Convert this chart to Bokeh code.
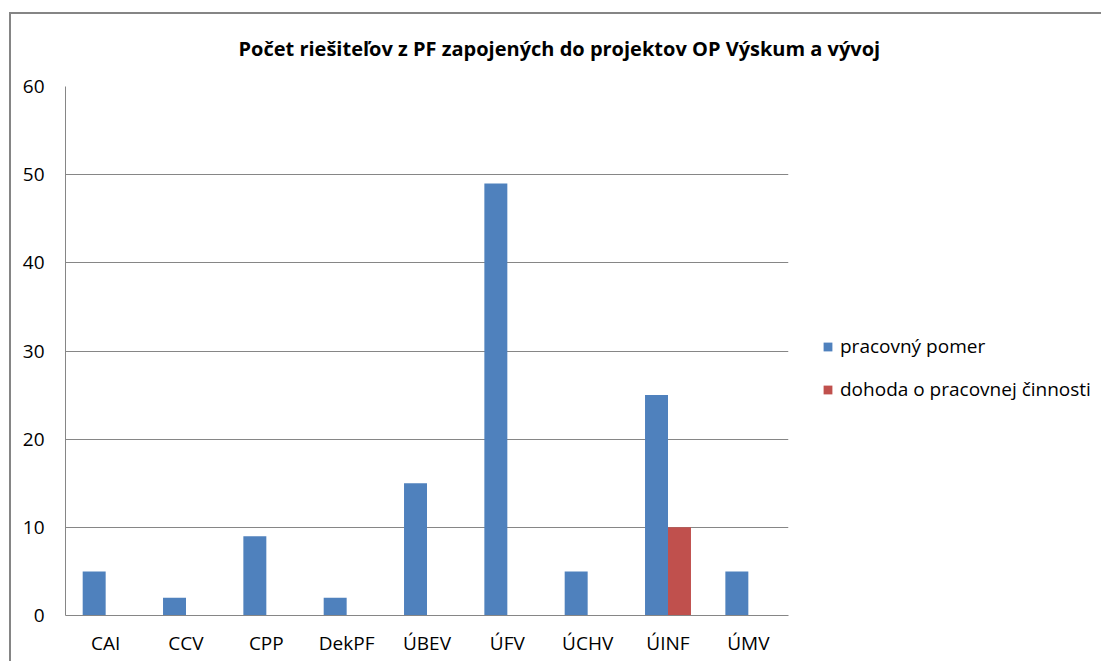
from bokeh.plotting import figure
from bokeh.models import FactorRange, ColumnDataSource, Legend, LegendItem, Range1d, FixedTicker
from bokeh.transform import dodge
from bokeh.embed import file_html
from bokeh.resources import INLINE

categories = ["CAI", "CCV", "CPP", "DekPF", "ÚBEV", "ÚFV", "ÚCHV", "ÚINF", "ÚMV"]
pracovny_pomer = [5, 2, 9, 2, 15, 49, 5, 25, 5]
dohoda = [0, 0, 0, 0, 0, 0, 0, 10, 0]
series_names = ["pracovný pomer", "dohoda o pracovnej činnosti"]
title_text = "Počet riešiteľov z PF zapojených do projektov OP Výskum a vývoj"
y_ticks = [0, 10, 20, 30, 40, 50, 60]

src = ColumnDataSource(dict(cat=categories, a=pracovny_pomer, b=dohoda))

FONT = "Open Sans"
p = figure(x_range=FactorRange(factors=categories, range_padding=0),
           y_range=Range1d(0, 60),
           frame_width=723, frame_height=529,
           min_border_left=58, min_border_top=72, min_border_bottom=46, min_border_right=300,
           output_backend="svg", toolbar_location=None, title=title_text)
p.border_fill_color = None
p.background_fill_color = "#ffffff"
p.styles = {"position": "relative", "top": "7px", "left": "7px",
            "box-shadow": "inset 2px 5px 0 0 #ffffff, inset 4px 7px 0 0 #858585"}

r1 = p.vbar(x=dodge("cat", -0.143, range=p.x_range), top="a", width=0.286, source=src,
            fill_color="#4F81BD", line_color=None)
r2 = p.vbar(x=dodge("cat", 0.143, range=p.x_range), top="b", width=0.286, source=src,
            fill_color="#C0504D", line_color=None)

p.title.align = "left"
p.title.offset = 173
p.title.text_font = FONT
p.title.text_font_style = "bold"
p.title.text_font_size = "20px"
p.title.text_color = "#000000"
try:
    p.title.standoff = 50
except Exception:
    pass

p.outline_line_color = None
p.xgrid.grid_line_color = None
p.ygrid.grid_line_color = "#868686"
p.ygrid.grid_line_width = 1
p.yaxis.ticker = FixedTicker(ticks=y_ticks)
for ax in (p.xaxis, p.yaxis):
    ax.axis_line_color = "#868686"
    ax.major_tick_line_color = None
    ax.minor_tick_line_color = None
    ax.major_label_text_font = FONT
    ax.major_label_text_font_size = "19px"
    ax.major_label_text_color = "#000000"
p.yaxis.major_label_standoff = 15
p.xaxis.major_label_standoff = 8

legend = Legend(items=[LegendItem(label=series_names[0], renderers=[r1]),
                       LegendItem(label=series_names[1], renderers=[r2])],
                location=(34, 213), orientation="vertical",
                glyph_width=11, glyph_height=11, label_standoff=7, spacing=17,
                label_height=22,
                padding=0, margin=0, border_line_color=None, background_fill_alpha=0,
                label_text_font=FONT, label_text_font_size="19px", label_text_color="#000000")
p.add_layout(legend, "right")

open("out.html", "w").write(file_html(p, INLINE))
